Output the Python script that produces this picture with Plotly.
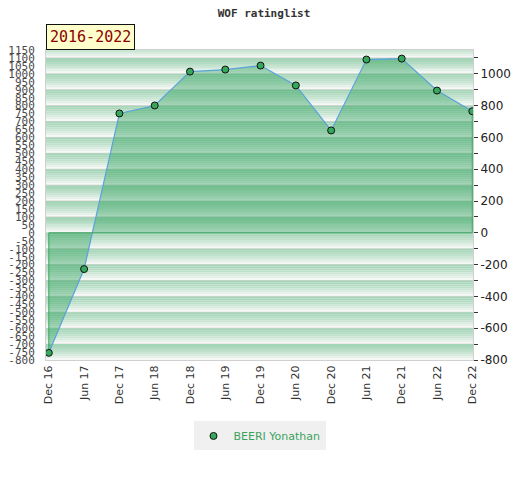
import plotly.graph_objects as go

# rating data, every six months
periods = ["Dec 16", "Jun 17", "Dec 17", "Jun 18", "Dec 18", "Jun 19", "Dec 19",
           "Jun 20", "Dec 20", "Jun 21", "Dec 21", "Jun 22", "Dec 22"]
rating = [-755, -228, 751, 801, 1014, 1027, 1052, 927, 644, 1090, 1096, 895, 765]
player = "BEERI Yonathan"
range_label = "2016-2022"

left_ticks = list(range(-800, 1151, 50))
right_ticks = list(range(-800, 1001, 200))

y_lo, y_hi = -800, 1150

# page body has an 8px margin, so the figure is drawn 8px smaller
W, H = 512, 472

fig = go.Figure()

# area under the rating line (filled to zero)
fig.add_trace(go.Scatter(
    x=periods, y=rating,
    mode="lines",
    fill="tozeroy",
    fillcolor="rgba(46,160,90,0.42)",
    line=dict(color="#5aa2dc", width=1.2),
    showlegend=False,
    hoverinfo="skip",
))

# green outline of the filled area (side edges and zero line)
fig.add_trace(go.Scatter(
    x=[periods[0], periods[0], periods[-1], periods[-1]],
    y=[rating[0], 0, 0, rating[-1]],
    mode="lines",
    line=dict(color="#3aa35e", width=1),
    showlegend=False,
    hoverinfo="skip",
))

fig.add_trace(go.Scatter(
    x=periods, y=rating,
    mode="markers",
    name=player,
    marker=dict(color="#35a85c", size=7, line=dict(color="#111", width=1)),
))

# dummy trace so the right axis shows
fig.add_trace(go.Scatter(x=[periods[0]], y=[0], yaxis="y2", mode="markers",
                         marker=dict(opacity=0), showlegend=False, hoverinfo="skip"))

# banded gradient background, one band per 100 points
c_top = (164, 213, 183)
c_bot = (246, 248, 246)
steps = 8
shapes = []
for top in range(1200, -801, -100):
    for k in range(steps):
        t = (k / (steps - 1)) ** 1.3
        col = tuple(int(c_top[i] + (c_bot[i] - c_top[i]) * t) for i in range(3))
        y1 = top - k * 100 / steps
        y0 = y1 - 100 / steps
        if y0 >= y_hi or y1 <= y_lo:
            continue
        shapes.append(dict(type="rect", xref="paper", yref="y", x0=0, x1=1,
                           y0=max(y0, y_lo), y1=min(y1, y_hi), layer="below",
                           line=dict(width=0), fillcolor="rgb(%d,%d,%d)" % col))
    if y_lo < top - 100 < y_hi:
        shapes.append(dict(type="line", xref="paper", yref="y", x0=0, x1=1,
                           y0=top - 100, y1=top - 100, layer="below",
                           line=dict(color="#dcd2d6", width=1)))

fig.update_layout(
    width=W, height=H,
    margin=dict(l=38, r=47, t=42, b=120, autoexpand=False),
    paper_bgcolor="white",
    plot_bgcolor="white",
    shapes=shapes,
    title=dict(text="<b>WOF ratinglist</b>", x=0.5, xanchor="center", y=1 - 5 / H, yanchor="middle",
               font=dict(family="DejaVu Sans Mono", size=11, color="#333")),
    legend=dict(orientation="h", x=0.5, xanchor="center", y=-0.245, yanchor="middle",
                bgcolor="#f0f0f0", itemwidth=30,
                font=dict(family="DejaVu Sans", size=11, color="#3aa35e")),
    xaxis=dict(
        type="category",
        range=[-0.08, 12.02],
        tickangle=-90,
        tickfont=dict(family="DejaVu Sans", size=11, color="#333"),
        showgrid=False, zeroline=False,
        showline=True, linecolor="#d0d0d0", mirror=True,
        ticks="", automargin=False,
    ),
    yaxis=dict(
        range=[y_lo, y_hi],
        tickmode="array", tickvals=left_ticks,
        ticktext=[str(v) for v in left_ticks],
        tickfont=dict(family="DejaVu Sans Mono", size=11, color="#4a4a4a"),
        showgrid=False, zeroline=False,
        showline=True, linecolor="#d0d0d0", mirror=True,
        ticks="", ticklabelstandoff=8, automargin=False,
    ),
    yaxis2=dict(
        overlaying="y", side="right",
        range=[y_lo, y_hi],
        tickmode="array", tickvals=right_ticks,
        ticktext=[str(v) for v in right_ticks],
        tickfont=dict(family="DejaVu Sans", size=12, color="#222"),
        ticks="outside", ticklen=4, tickcolor="#333",
        minor=dict(tickmode="array", tickvals=list(range(-700, 1101, 200)),
                   ticks="outside", ticklen=4, tickcolor="#333"),
        showgrid=False, zeroline=False, showline=False, automargin=False,
    ),
)

# period label tab
fig.add_annotation(
    text=range_label, xref="paper", yref="paper", x=0, y=1,
    xanchor="left", yanchor="bottom", showarrow=False,
    font=dict(family="DejaVu Sans Mono", size=15, color="#8b0000"),
    bgcolor="#ffffcc", bordercolor="#111", borderwidth=1, borderpad=3,
)

fig.write_html("out.html")
